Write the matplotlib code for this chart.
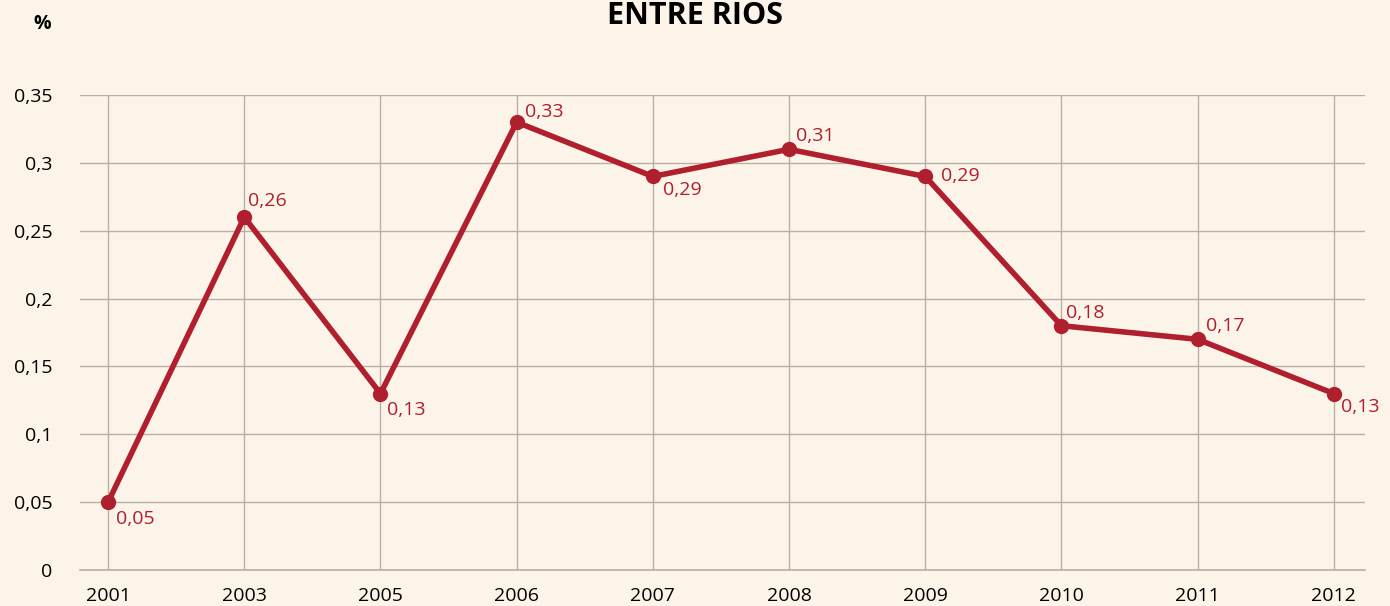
import matplotlib.pyplot as plt

years = ['2001', '2003', '2005', '2006', '2007', '2008', '2009', '2010', '2011', '2012']
values = [0.05, 0.26, 0.13, 0.33, 0.29, 0.31, 0.29, 0.18, 0.17, 0.13]
value_labels = ['0,05', '0,26', '0,13', '0,33', '0,29', '0,31', '0,29', '0,18', '0,17', '0,13']
yticks = [0, 0.05, 0.1, 0.15, 0.2, 0.25, 0.3, 0.35]
ytick_labels = ['0', '0,05', '0,1', '0,15', '0,2', '0,25', '0,3', '0,35']

# label offsets in points (dx, dy, va)
offsets = [(6, -6, 'top'), (3, 5, 'bottom'), (5, -5, 'top'), (6, 1, 'bottom'),
           (7, -3, 'top'), (5, 3, 'bottom'), (11, 0, 'center'), (3, 3, 'bottom'),
           (6, 3, 'bottom'), (5, -3, 'top')]

bg = '#fdf4e9'
red = '#b01f2e'
grid = '#b8b0a8'

plt.rcParams['font.family'] = ['Open Sans', 'DejaVu Sans']

fig = plt.figure(figsize=(13.9, 6.06), dpi=100, facecolor=bg)
ax = fig.add_axes([0.0576, 0.0594, 0.9245, 0.7838])
ax.set_facecolor(bg)

x = list(range(len(years)))
ax.plot(x, values, color=red, linewidth=4, marker='o', markersize=10, zorder=3)

for xi, v, lab, (dx, dy, va) in zip(x, values, value_labels, offsets):
    ax.annotate(lab, (xi, v), xytext=(dx, dy), textcoords='offset points',
                ha='left', va=va, color=red, fontsize=14)

ax.set_xlim(-0.206, 9.23)
ax.set_ylim(0, 0.35)
ax.set_xticks(x)
ax.set_xticklabels(years, fontsize=14)
ax.set_yticks(yticks)
ax.set_yticklabels(ytick_labels, fontsize=14)
ax.tick_params(axis='x', length=0, pad=12)
ax.tick_params(axis='y', length=0, pad=20)
ax.grid(True, color=grid, linewidth=1)
ax.axhline(0, color=grid, linewidth=1.2, clip_on=False, zorder=1)
ax.set_axisbelow(True)
for s in ax.spines.values():
    s.set_visible(False)

fig.text(0.03, 0.96, '%', fontsize=14, fontweight='bold', ha='center', va='center')
fig.text(0.5, 0.998, 'ENTRE RIOS', fontsize=22, fontweight='bold', ha='center', va='top')

fig.savefig('out.png', dpi=100, facecolor=bg)
